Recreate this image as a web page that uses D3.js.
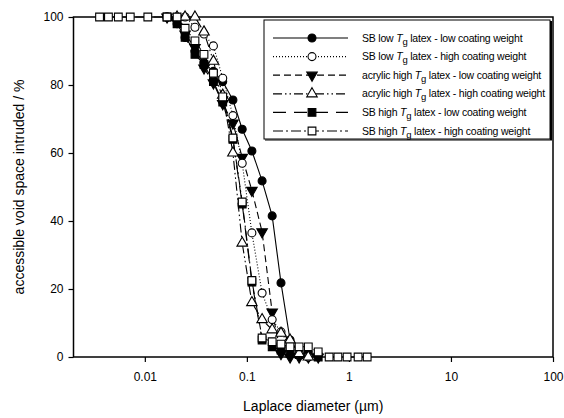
<!DOCTYPE html>
<html>
<head>
<meta charset="utf-8">
<script src="https://cdn.jsdelivr.net/npm/d3@7"></script>
<style>
  html, body { margin: 0; padding: 0; background: #fff; }
  svg { display: block; font-family: "Liberation Sans", Arial, sans-serif; }
</style>
</head>
<body>
<svg id="chart" width="564" height="418"></svg>
<script>
// Laplace diameters (µm) and intruded void space (%) for each latex / coating weight
const sbLowLowD   = [0.0165, 0.0207, 0.0248, 0.031, 0.038, 0.047, 0.058, 0.073, 0.09, 0.112, 0.141, 0.177, 0.216, 0.265, 0.325, 0.40];
const sbLowLowV   = [100, 98, 94, 90, 86.5, 84, 81, 75.6, 67, 60.6, 51.8, 41.5, 21.8, 5, 1, 0];

const sbLowHighD  = [0.0165, 0.0207, 0.0248, 0.031, 0.038, 0.047, 0.058, 0.073, 0.09, 0.112, 0.141, 0.177, 0.216, 0.265, 0.325, 0.40];
const sbLowHighV  = [100, 100, 100, 97, 95, 91.5, 82, 71, 57, 36.5, 18.8, 11, 7.4, 3, 1, 0];

const acrLowD     = [0.0165, 0.0207, 0.0248, 0.031, 0.038, 0.047, 0.058, 0.073, 0.09, 0.112, 0.141, 0.177, 0.216, 0.265, 0.325, 0.40, 0.50];
const acrLowV     = [100, 99, 95, 91, 85, 80.6, 74.5, 68.8, 58.7, 49, 36.8, 13.2, 1, 0, 0, 0, 0];

const acrHighD    = [0.0207, 0.0248, 0.031, 0.038, 0.047, 0.058, 0.073, 0.09, 0.112, 0.141, 0.177, 0.216, 0.265, 0.325, 0.40];
const acrHighV    = [100, 100, 100, 95.6, 87, 77, 60, 33.5, 16, 11, 8, 7, 5, 1, 0];

const sbHighLowD  = [0.0165, 0.0207, 0.0248, 0.031, 0.038, 0.047, 0.058, 0.073, 0.09, 0.112, 0.141, 0.177, 0.216, 0.265, 0.325, 0.40, 0.50];
const sbHighLowV  = [100, 98, 94, 89, 86, 81, 75, 64, 45, 22, 5, 3, 2, 1, 0.7, 0.5, 0];

const sbHighHighD = [0.0036, 0.0044, 0.0055, 0.0072, 0.0107, 0.0165, 0.0207, 0.0248, 0.031, 0.038, 0.047, 0.058, 0.073, 0.09, 0.112, 0.141, 0.177, 0.216, 0.265, 0.325, 0.40, 0.50, 0.64, 0.78, 0.96, 1.23, 1.51];
const sbHighHighV = [100, 100, 100, 100, 100, 100, 100, 96.7, 93, 89, 83.5, 76.5, 64.4, 45.6, 22.5, 5.6, 4.5, 3.8, 3, 3, 3, 1.5, 0, 0, 0, 0, 0];

const xTickValues = [0.01, 0.1, 1, 10, 100];
const xTickLabels = ["0.01", "0.1", "1", "10", "100"];
const yTickValues = [0, 20, 40, 60, 80, 100];

const seriesNames = [
  ["SB low ", " latex - low coating weight"],
  ["SB low ", " latex - high coating weight"],
  ["acrylic high ", " latex - low coating weight"],
  ["acrylic high ", " latex - high coating weight"],
  ["SB high ", " latex  - low coating weight"],
  ["SB high ", " latex - high coating weight"]
];

const series = [
  { d: sbLowLowD,   v: sbLowLowV,   sym: "circle",   fill: "#000", dash: null },
  { d: sbLowHighD,  v: sbLowHighV,  sym: "circle",   fill: "#fff", dash: "1,2" },
  { d: acrLowD,     v: acrLowV,     sym: "tridown",  fill: "#000", dash: "7,4" },
  { d: acrHighD,    v: acrHighV,    sym: "triangle", fill: "#fff", dash: "9,3,1.5,3,1.5,3" },
  { d: sbHighLowD,  v: sbHighLowV,  sym: "square",   fill: "#000", dash: "13,8" },
  { d: sbHighHighD, v: sbHighHighV, sym: "square",   fill: "#fff", dash: "10,3,2,3" }
];

const svg = d3.select("#chart");
const plotLeft = 73.5, plotRight = 553, plotTop = 17, plotBottom = 357;

const x = d3.scaleLog().domain([0.002, 100]).range([plotLeft, plotRight]);
const y = d3.scaleLinear().domain([0, 100]).range([plotBottom, plotTop]);

function symbolPath(kind) {
  if (kind === "circle") return d3.symbol(d3.symbolCircle, 50)();
  if (kind === "square") return d3.symbol(d3.symbolSquare, 60)();
  return d3.symbol(d3.symbolTriangle, 48)();
}
function symbolTransform(kind, px, py) {
  return kind === "tridown" ? `translate(${px},${py}) rotate(180)` : `translate(${px},${py})`;
}

// axes
const xAxis = d3.axisBottom(x).tickValues(xTickValues)
  .tickFormat((d, i) => xTickLabels[i]).tickSizeInner(5).tickSizeOuter(0).tickPadding(10);
const yAxis = d3.axisLeft(y).tickValues(yTickValues).tickSizeInner(5).tickSizeOuter(0).tickPadding(5);

const gx = svg.append("g").attr("transform", `translate(0,${plotBottom})`).call(xAxis);
const gy = svg.append("g").attr("transform", `translate(${plotLeft},0)`).call(yAxis);
[gx, gy].forEach(g => {
  g.select(".domain").remove();
  g.selectAll("line").attr("stroke", "#000").attr("stroke-width", 1.2);
  g.selectAll("text").attr("fill", "#000").attr("font-size", 12)
    .attr("font-family", "Liberation Sans, Arial, sans-serif");
});

// plot frame
svg.append("rect")
  .attr("x", plotLeft).attr("y", plotTop)
  .attr("width", plotRight - plotLeft).attr("height", plotBottom - plotTop)
  .attr("fill", "none").attr("stroke", "#000").attr("stroke-width", 1.5);

// data lines and markers
const line = d3.line().x(p => x(p[0])).y(p => y(p[1]));
const drawOrder = [4, 2, 0, 1, 3, 5];
drawOrder.forEach(i => {
  const s = series[i];
  const pts = s.d.map((d, k) => [d, s.v[k]]);
  svg.append("path").datum(pts)
    .attr("d", line).attr("fill", "none").attr("stroke", "#000")
    .attr("stroke-width", 1.1).attr("stroke-dasharray", s.dash);
});
drawOrder.forEach(i => {
  const s = series[i];
  const pts = s.d.map((d, k) => [d, s.v[k]]);
  svg.append("g").selectAll("path").data(pts).join("path")
    .attr("d", symbolPath(s.sym))
    .attr("transform", p => symbolTransform(s.sym, x(p[0]), y(p[1])))
    .attr("fill", s.fill).attr("stroke", "#000").attr("stroke-width", 1.1);
});

// legend
const lg = svg.append("g");
lg.append("rect").attr("x", 264).attr("y", 20).attr("width", 286).attr("height", 119)
  .attr("fill", "#fff").attr("stroke", "#000").attr("stroke-width", 1);
lg.append("line").attr("x1", 551).attr("y1", 21).attr("x2", 551).attr("y2", 140)
  .attr("stroke", "#000").attr("stroke-width", 2);
lg.append("line").attr("x1", 265).attr("y1", 140).attr("x2", 552).attr("y2", 140)
  .attr("stroke", "#000").attr("stroke-width", 1);

series.forEach((s, i) => {
  const cy = 38 + i * 18.6;
  lg.append("line").attr("x1", 273).attr("x2", 348).attr("y1", cy).attr("y2", cy)
    .attr("stroke", "#000").attr("stroke-width", 1.2).attr("stroke-dasharray", s.dash);
  lg.append("path").attr("d", symbolPath(s.sym))
    .attr("transform", symbolTransform(s.sym, 312, cy))
    .attr("fill", s.fill).attr("stroke", "#000").attr("stroke-width", 1.1);
  const t = lg.append("text").attr("x", 362).attr("y", cy + 3.5)
    .attr("font-size", 10.5).attr("letter-spacing", "-0.2").attr("fill", "#000");
  t.append("tspan").text(seriesNames[i][0]);
  t.append("tspan").attr("font-style", "italic").text("T");
  t.append("tspan").attr("dy", 3).attr("font-size", 9.5).text("g");
  t.append("tspan").attr("dy", -3).text(seriesNames[i][1]);
});

// axis titles
svg.append("text").attr("x", (plotLeft + plotRight) / 2).attr("y", 411)
  .attr("text-anchor", "middle").attr("font-size", 14).attr("fill", "#000")
  .text("Laplace diameter (µm)");
svg.append("text").attr("transform", `translate(24,${(plotTop + plotBottom) / 2}) rotate(-90)`)
  .attr("text-anchor", "middle").attr("font-size", 14).attr("fill", "#000")
  .text("accessible void space intruded / %");
</script>
</body>
</html>
